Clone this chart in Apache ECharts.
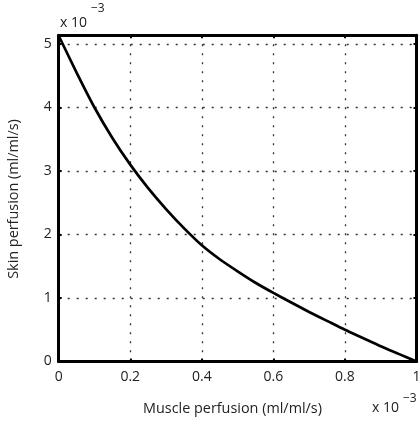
<!DOCTYPE html>
<html>
<head>
<meta charset="utf-8">
<script src="https://cdn.jsdelivr.net/npm/echarts@6/dist/echarts.min.js"></script>
<style>
html,body{margin:0;padding:0;background:#fff;}
#chart{width:419px;height:423px;}
</style>
</head>
<body>
<div id="chart"></div>
<script>
// Data in units of 1e-3 ml/ml/s
const musclePerfusion = [0, 0.05, 0.1, 0.15, 0.2, 0.25, 0.3, 0.35, 0.4, 0.45, 0.5, 0.55, 0.6, 0.65, 0.7, 0.75, 0.8, 0.85, 0.9, 0.95, 1.0];
const skinPerfusion   = [5.13, 4.55, 4.0, 3.52, 3.1, 2.73, 2.4, 2.1, 1.83, 1.61, 1.42, 1.24, 1.08, 0.93, 0.78, 0.64, 0.5, 0.37, 0.24, 0.12, 0];
const xTicks = [0, 0.2, 0.4, 0.6, 0.8, 1];
const yTicks = [0, 1, 2, 3, 4, 5];
const xName = 'Muscle perfusion (ml/ml/s)';
const yName = 'Skin perfusion (ml/ml/s)';

const FONT = 'Open Sans';
const chart = echarts.init(document.getElementById('chart'), null, {renderer: 'canvas'});
const grid = {left: 58.7, right: 2.5, top: 35.3, bottom: 61.5, containLabel: false, outerBoundsMode: 'none'};
const dotted = {color: '#333', width: 1.3, type: [2, 7]};
const border = {show: true, onZero: false, lineStyle: {color: '#000', width: 3}};
const isTick = (arr, v) => arr.some(t => Math.abs(t - v) < 1e-9);

chart.setOption({
  animation: false,
  backgroundColor: '#fff',
  grid: grid,
  xAxis: [{
    type: 'value', min: 0, max: 1, interval: 0.2, position: 'bottom',
    axisLine: border,
    axisTick: {show: true, inside: true, length: 3, lineStyle: {color: '#000', width: 2}},
    axisLabel: {margin: 9, fontFamily: FONT, fontSize: 14, color: '#222',
      formatter: v => isTick(xTicks, v) ? String(v) : ''},
    splitLine: {show: true, lineStyle: dotted}
  }, {
    type: 'value', min: 0, max: 1, interval: 0.2, position: 'top',
    axisLine: border,
    axisTick: {show: true, inside: true, length: 3, lineStyle: {color: '#000', width: 2}},
    axisLabel: {show: false}, splitLine: {show: false}
  }],
  yAxis: [{
    type: 'value', min: 0, max: 5.137, interval: 1, position: 'left',
    axisLine: border,
    axisTick: {show: true, inside: true, length: 3, lineStyle: {color: '#000', width: 2},
      customValues: yTicks},
    axisLabel: {margin: 7, fontFamily: FONT, fontSize: 14, color: '#222',
      customValues: yTicks,
      formatter: v => isTick(yTicks, v) ? String(v) : ''},
    splitLine: {show: true, lineStyle: dotted}
  }, {
    type: 'value', min: 0, max: 5.137, interval: 1, position: 'right',
    axisLine: border,
    axisTick: {show: true, inside: true, length: 3, lineStyle: {color: '#000', width: 2},
      customValues: yTicks},
    axisLabel: {show: false}, splitLine: {show: false}
  }],
  series: [{
    type: 'line',
    xAxisIndex: 0, yAxisIndex: 0,
    data: musclePerfusion.map((x, i) => [x, skinPerfusion[i]]),
    smooth: 0.2,
    symbol: 'none',
    lineStyle: {color: '#000', width: 2.7},
    z: 5
  }],
  graphic: [
    {type: 'text', x: 232.5, y: 408.5,
      style: {text: xName, font: '14.4px "Open Sans"', fill: '#222', textAlign: 'center', textVerticalAlign: 'middle'}},
    {type: 'text', x: 14, y: 199, rotation: Math.PI / 2,
      style: {text: yName, font: '14.4px "Open Sans"', fill: '#222', textAlign: 'center', textVerticalAlign: 'middle'}},
    {type: 'text', left: 60, top: 16, style: {text: 'x 10', font: '14px "Open Sans"', fill: '#222'}},
    {type: 'text', left: 91, top: 3, style: {text: '\u22123', font: '12px "Open Sans"', fill: '#222'}},
    {type: 'text', left: 372, top: 401, style: {text: 'x 10', font: '14px "Open Sans"', fill: '#222'}},
    {type: 'text', left: 403, top: 393, style: {text: '\u22123', font: '12px "Open Sans"', fill: '#222'}}
  ]
});
</script>
</body>
</html>
